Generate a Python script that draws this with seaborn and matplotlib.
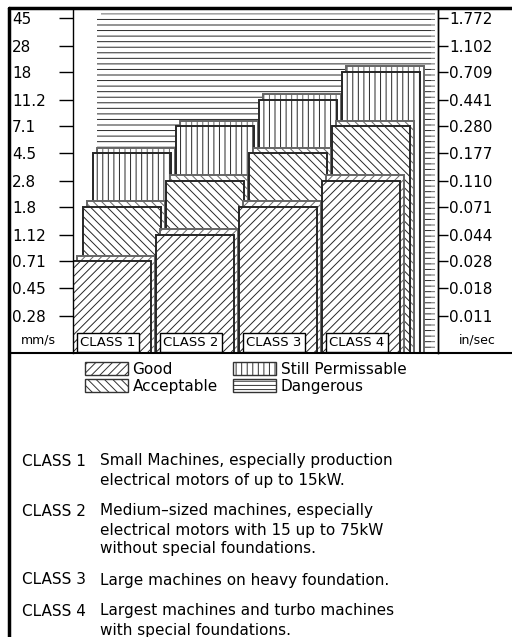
import matplotlib
matplotlib.use("Agg")
import matplotlib.pyplot as plt
from matplotlib.patches import Patch
from matplotlib.lines import Line2D
import pandas as pd
import seaborn as sns

# vibration severity zones (upper limit of each zone, mm/s)
classes = ["CLASS 1", "CLASS 2", "CLASS 3", "CLASS 4"]
good_top = [0.71, 1.12, 1.8, 2.8]
acceptable_top = [1.8, 2.8, 4.5, 7.1]
permissable_top = [4.5, 7.1, 11.2, 18]
dangerous_top = [45, 45, 45, 45]

mm_ticks = [45, 28, 18, 11.2, 7.1, 4.5, 2.8, 1.8, 1.12, 0.71, 0.45, 0.28]
mm_labels = ["45", "28", "18", "11.2", "7.1", "4.5", "2.8", "1.8", "1.12",
             "0.71", "0.45", "0.28"]
MM_PER_INCH = 25.4

desc_classes = ["CLASS 1", "CLASS 2", "CLASS 3", "CLASS 4"]
desc_lines = [
    ["Small Machines, especially production",
     "electrical motors of up to 15kW."],
    ["Medium\u2013sized machines, especially",
     "electrical motors with 15 up to 75kW",
     "without special foundations."],
    ["Large machines on heavy foundation."],
    ["Largest machines and turbo machines",
     "with special foundations."],
]

sns.set_theme(style="white")
plt.rcParams["font.family"] = ["DejaVu Sans"]
plt.rcParams["text.color"] = "black"
plt.rcParams["hatch.linewidth"] = 0.7

W, H = 512, 637
fig = plt.figure(figsize=(W / 100, H / 100), dpi=100)
fig.patch.set_facecolor("white")
ax = fig.add_axes([73 / W, 1 - 353 / H, (438 - 73) / W, (353 - 8) / H])
ax.set_yscale("log")

df = pd.DataFrame({"cls": classes, "Good": good_top, "Acceptable": acceptable_top,
                   "Still Permissable": permissable_top, "Dangerous": dangerous_top})

# name, hatch, right shift (3d look), bar width, outline
layers = [
    ("Dangerous", "---", 0.33, 1.03, 0.0),
    ("Still Permissable", "|||", 0.24, 0.94, 1.4),
    ("Acceptable", "\\\\\\\\", 0.12, 0.94, 1.4),
    ("Good", "////", 0.0, 0.94, 1.4),
]
for name, hatch, shift, width, lw in layers:
    for face in (True, False):
        n0 = len(ax.patches)
        sns.barplot(data=df, x="cls", y=name, ax=ax, color="white", width=width,
                    edgecolor="0.15", linewidth=lw, hatch=hatch, saturation=1)
        for p in ax.patches[n0:]:
            p.set_x(p.get_x() + shift + (0.05 if face else 0))
            if face:
                p.set_height(p.get_height() * 1.1)
                p.set_edgecolor("0.4")

ax.set_xlim(-0.47, 3.93)
ax.set_ylim(0.149, 53.4)
ax.set_xticks([])
ax.set_xlabel("")
ax.set_ylabel("")
ax.minorticks_off()
ax.set_yticks(mm_ticks, mm_labels)
ax.tick_params(axis="y", which="major", left=True, direction="out", length=10,
               width=1, pad=34, labelsize=11, colors="black")
for lab in ax.get_yticklabels():
    lab.set_horizontalalignment("left")
for side in ["top", "bottom"]:
    ax.spines[side].set_visible(False)
for side in ["left", "right"]:
    ax.spines[side].set_color("black")
    ax.spines[side].set_linewidth(1)

sec = ax.secondary_yaxis("right", functions=(lambda v: v / MM_PER_INCH,
                                              lambda v: v * MM_PER_INCH))
in_ticks = [v / MM_PER_INCH for v in mm_ticks]
sec.set_yticks(in_ticks, [f"{v:.3f}" for v in in_ticks])
sec.minorticks_off()
sec.tick_params(axis="y", direction="out", length=7, width=1, pad=1,
                labelsize=11, colors="black")
sec.spines["right"].set_color("black")
sec.spines["right"].set_linewidth(1)

ax.text(-0.096, 0.038, "mm/s", transform=ax.transAxes, ha="center",
        va="center", fontsize=9)
ax.text(1.107, 0.038, "in/sec", transform=ax.transAxes, ha="center",
        va="center", fontsize=9)

for i, c in enumerate(classes):
    ax.text(i - 0.47 + 0.09, 0.012, c, transform=ax.get_xaxis_transform(),
            ha="left", va="bottom", fontsize=9.5,
            bbox=dict(boxstyle="square,pad=0.25", fc="white", ec="black", lw=1))

legend_hatch = {"Good": "////", "Acceptable": "\\\\\\\\",
                "Still Permissable": "|||", "Dangerous": "----"}
handles = [Patch(facecolor="white", edgecolor="0.2", hatch=legend_hatch[n])
           for n in ["Good", "Acceptable", "Still Permissable", "Dangerous"]]
fig.legend(handles, ["Good", "Acceptable", "Still Permissable", "Dangerous"],
           ncol=2, loc="center", bbox_to_anchor=(0.48, 0.407), frameon=False,
           fontsize=11, handlelength=2.8, handleheight=0.9,
           columnspacing=1.0, labelspacing=0.1, handletextpad=0.3)

# class descriptions
y = 461
for c, lines in zip(desc_classes, desc_lines):
    fig.text(22 / W, 1 - y / H, c, fontsize=11, va="center", ha="left")
    for ln in lines:
        fig.text(100 / W, 1 - y / H, ln, fontsize=11, va="center", ha="left")
        y += 19
    y += 12

# drawing frame
for xs, ys, lw in [([9 / W, 1], [1 - 8 / H] * 2, 2.5),
                   ([9 / W, 9 / W], [0, 1 - 8 / H], 2.5),
                   ([9 / W, 1], [1 - 353 / H] * 2, 1.5)]:
    fig.add_artist(Line2D(xs, ys, transform=fig.transFigure, color="black", lw=lw))

fig.savefig("out.png", dpi=100)
